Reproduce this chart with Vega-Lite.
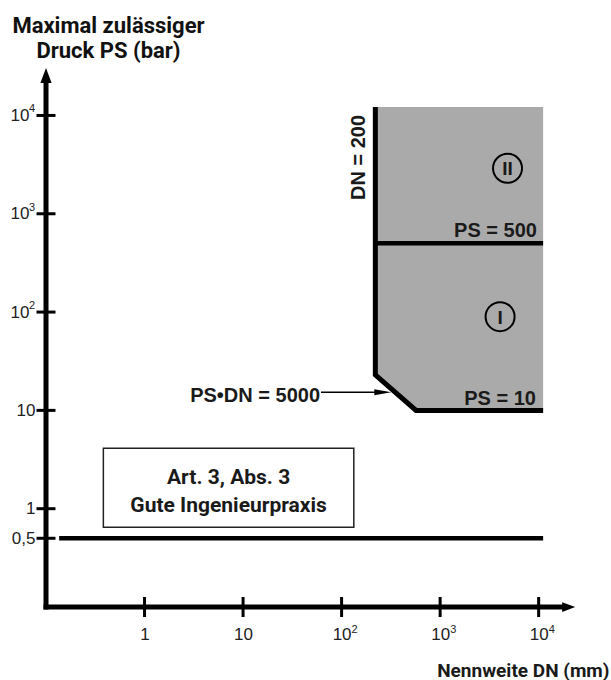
{
  "$schema": "https://vega.github.io/schema/vega-lite/v6.json",
  "width": 537,
  "height": 546,
  "autosize": {"type": "none"},
  "padding": {"left": 46, "top": 61, "right": 28, "bottom": 73},
  "background": "white",
  "config": {"view": {"stroke": null}, "axis": {"grid": false}},
  "layer": [
    {
      "data": {"values": [
        {"dn": 220, "lo": 23, "hi": 12200},
        {"dn": 570, "lo": 10, "hi": 12200},
        {"dn": 11100, "lo": 10, "hi": 12200}
      ]},
      "mark": {"type": "area", "color": "#aaaaaa", "opacity": 1},
      "encoding": {
        "x": {
          "field": "dn", "type": "quantitative",
          "scale": {"type": "log", "domain": [0.1, 28184], "nice": false},
          "axis": {
            "values": [1, 10, 100, 1000, 10000],
            "domain": false, "ticks": false, "tickSize": 0,
            "labelPadding": 19, "labelBaseline": "top",
            "labelFont": "Liberation Sans", "labelFontSize": 17, "labelColor": "#222222",
            "labelFlush": false, "labelOverlap": false,
            "labelExpr": "datum.value == 1 ? '1' : '10'",
            "title": "Nennweite DN (mm)",
            "titleFont": "Roboto", "titleFontSize": 19, "titleFontWeight": "bold", "titleColor": "#1a1a1a",
            "titleAnchor": "start", "titleAlign": "right", "titleX": 563, "titleY": 69, "titleBaseline": "alphabetic"
          }
        },
        "y": {
          "field": "lo", "type": "quantitative",
          "scale": {"type": "log", "domain": [0.1, 35800], "nice": false},
          "axis": {
            "values": [0.5, 1, 10, 100, 1000, 10000],
            "domain": false, "ticks": false, "tickSize": 0,
            "labelPadding": {"condition": {"test": "datum.value >= 100", "value": 17}, "value": 11},
            "labelFont": "Liberation Sans", "labelFontSize": 17, "labelColor": "#222222",
            "labelFlush": false, "labelOverlap": false,
            "labelExpr": "datum.value >= 10 ? '10' : datum.value == 1 ? '1' : '0,5'",
            "title": ["Maximal zulässiger", "Druck PS (bar)"],
            "titleAngle": 0, "titleAnchor": "start", "titleAlign": "center", "titleBaseline": "alphabetic",
            "titleX": 62, "titleY": -29, "titleLineHeight": 25,
            "titleFont": "Roboto", "titleFontSize": 22, "titleFontWeight": "bold", "titleColor": "#111111"
          }
        },
        "y2": {"field": "hi"}
      }
    },
    {
      "data": {"values": [{"x": 0.382, "x2": 133, "y": 0.647, "y2": 4.11}]},
      "mark": {"type": "rect", "fill": "white", "stroke": "#222222", "strokeWidth": 1.5},
      "encoding": {
        "x": {"field": "x", "type": "quantitative"},
        "x2": {"field": "x2"},
        "y": {"field": "y", "type": "quantitative"},
        "y2": {"field": "y2"}
      }
    },
    {
      "data": {"values": [
        {"x": 0.1, "x2": 0.1, "y": 0.1, "y2": 22900},
        {"x": 0.1, "x2": 18200, "y": 0.1, "y2": 0.1}
      ]},
      "mark": {"type": "rule", "color": "black", "strokeWidth": 5, "strokeCap": "square"},
      "encoding": {
        "x": {"field": "x", "type": "quantitative"},
        "x2": {"field": "x2"},
        "y": {"field": "y", "type": "quantitative"},
        "y2": {"field": "y2"}
      }
    },
    {
      "data": {"values": [
        {"x": 220, "x2": 11100, "y": 500, "y2": 500},
        {"x": 0.136, "x2": 11100, "y": 0.5, "y2": 0.5}
      ]},
      "mark": {"type": "rule", "color": "black", "strokeWidth": 4.5},
      "encoding": {
        "x": {"field": "x", "type": "quantitative"},
        "x2": {"field": "x2"},
        "y": {"field": "y", "type": "quantitative"},
        "y2": {"field": "y2"}
      }
    },
    {
      "data": {"values": [
        {"dn": 220, "ps": 12200, "o": 1},
        {"dn": 220, "ps": 23, "o": 2},
        {"dn": 570, "ps": 10, "o": 3},
        {"dn": 11100, "ps": 10, "o": 4}
      ]},
      "mark": {"type": "line", "color": "black", "strokeWidth": 5, "strokeJoin": "miter"},
      "encoding": {
        "x": {"field": "dn", "type": "quantitative"},
        "y": {"field": "ps", "type": "quantitative"},
        "order": {"field": "o"}
      }
    },
    {
      "data": {"values": [{"x": 61.8, "x2": 235, "y": 15.3, "y2": 15.3}]},
      "mark": {"type": "rule", "color": "black", "strokeWidth": 1.5},
      "encoding": {
        "x": {"field": "x", "type": "quantitative"},
        "x2": {"field": "x2"},
        "y": {"field": "y", "type": "quantitative"},
        "y2": {"field": "y2"}
      }
    },
    {
      "data": {"values": [{"v": 0.5}, {"v": 1}, {"v": 10}, {"v": 100}, {"v": 1000}, {"v": 10000}]},
      "mark": {"type": "tick", "orient": "horizontal", "size": 19, "thickness": 3, "color": "black", "opacity": 1},
      "encoding": {
        "x": {"datum": 0.1, "type": "quantitative"},
        "y": {"field": "v", "type": "quantitative"}
      }
    },
    {
      "data": {"values": [{"v": 1}, {"v": 10}, {"v": 100}, {"v": 1000}, {"v": 10000}]},
      "mark": {"type": "tick", "orient": "vertical", "size": 20, "thickness": 3, "color": "black", "opacity": 1},
      "encoding": {
        "x": {"field": "v", "type": "quantitative"},
        "y": {"datum": 0.1, "type": "quantitative"}
      }
    },
    {
      "data": {"values": [{"v": 100, "s": "2"}, {"v": 1000, "s": "3"}, {"v": 10000, "s": "4"}]},
      "mark": {"type": "text", "font": "Liberation Sans", "fontSize": 11, "align": "left", "baseline": "middle", "dx": -17, "dy": -6, "color": "#222222"},
      "encoding": {
        "x": {"datum": 0.1, "type": "quantitative"},
        "y": {"field": "v", "type": "quantitative"},
        "text": {"field": "s"}
      }
    },
    {
      "data": {"values": [{"v": 100, "s": "2"}, {"v": 1000, "s": "3"}, {"v": 10000, "s": "4"}]},
      "mark": {"type": "text", "font": "Liberation Sans", "fontSize": 11, "align": "left", "baseline": "middle", "dx": 10, "dy": 23, "color": "#222222"},
      "encoding": {
        "x": {"field": "v", "type": "quantitative"},
        "y": {"datum": 0.1, "type": "quantitative"},
        "text": {"field": "s"}
      }
    },
    {
      "data": {"values": [{"x": 0.1, "y": 25530}]},
      "mark": {"type": "point", "shape": "M0,-1L0.75,1L-0.75,1Z", "size": 225, "filled": true, "color": "black", "opacity": 1},
      "encoding": {
        "x": {"field": "x", "type": "quantitative"},
        "y": {"field": "y", "type": "quantitative"}
      }
    },
    {
      "data": {"values": [{"x": 20180, "y": 0.1}]},
      "mark": {"type": "point", "shape": "M1,0L-1,0.75L-1,-0.75Z", "size": 169, "filled": true, "color": "black", "opacity": 1},
      "encoding": {
        "x": {"field": "x", "type": "quantitative"},
        "y": {"field": "y", "type": "quantitative"}
      }
    },
    {
      "data": {"values": [{"x": 262, "y": 15.3}]},
      "mark": {"type": "point", "shape": "M1,0L-1,0.35L-1,-0.35Z", "size": 289, "filled": true, "color": "black", "opacity": 1},
      "encoding": {
        "x": {"field": "x", "type": "quantitative"},
        "y": {"field": "y", "type": "quantitative"}
      }
    },
    {
      "data": {"values": [{"x": 4830, "y": 2904}, {"x": 4060, "y": 89.8}]},
      "mark": {"type": "point", "shape": "circle", "size": 841, "filled": false, "stroke": "black", "strokeWidth": 2, "opacity": 1},
      "encoding": {
        "x": {"field": "x", "type": "quantitative"},
        "y": {"field": "y", "type": "quantitative"}
      }
    },
    {
      "data": {"values": [{"x": 4830, "y": 2904, "t": "II"}, {"x": 4060, "y": 89.8, "t": "I"}]},
      "mark": {"type": "text", "font": "Liberation Sans", "fontSize": 19, "fontWeight": "bold", "align": "center", "baseline": "middle", "dy": 1, "color": "#1a1a1a"},
      "encoding": {
        "x": {"field": "x", "type": "quantitative"},
        "y": {"field": "y", "type": "quantitative"},
        "text": {"field": "t"}
      }
    },
    {
      "data": {"values": [
        {"x": 9610, "y": 581, "t": "PS = 500"},
        {"x": 9380, "y": 11.35, "t": "PS = 10"},
        {"x": 60.4, "y": 12.2, "t": "PS•DN = 5000"}
      ]},
      "mark": {"type": "text", "font": "Liberation Sans", "fontSize": 20, "fontWeight": "bold", "align": "right", "baseline": "alphabetic", "color": "#1a1a1a"},
      "encoding": {
        "x": {"field": "x", "type": "quantitative"},
        "y": {"field": "y", "type": "quantitative"},
        "text": {"field": "t"}
      }
    },
    {
      "data": {"values": [{"x": 173.6, "y": 3741, "t": "DN = 200"}]},
      "mark": {"type": "text", "font": "Liberation Sans", "fontSize": 20, "fontWeight": "bold", "align": "center", "baseline": "alphabetic", "angle": 270, "color": "#1a1a1a"},
      "encoding": {
        "x": {"field": "x", "type": "quantitative"},
        "y": {"field": "y", "type": "quantitative"},
        "text": {"field": "t"}
      }
    },
    {
      "data": {"values": [
        {"x": 7.13, "y": 1.784, "t": "Art. 3, Abs. 3"},
        {"x": 7.13, "y": 0.932, "t": "Gute Ingenieurpraxis"}
      ]},
      "mark": {"type": "text", "font": "Roboto", "fontSize": 21, "fontWeight": "bold", "align": "center", "baseline": "alphabetic", "color": "#1a1a1a"},
      "encoding": {
        "x": {"field": "x", "type": "quantitative"},
        "y": {"field": "y", "type": "quantitative"},
        "text": {"field": "t"}
      }
    }
  ]
}
